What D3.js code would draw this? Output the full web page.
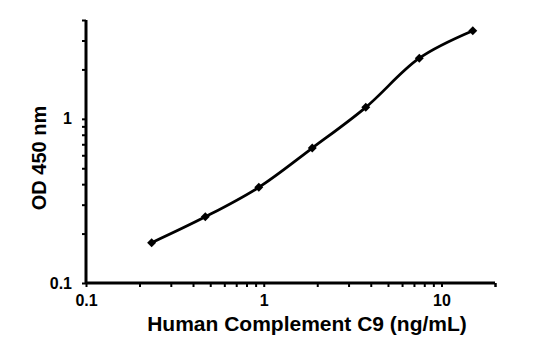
<!DOCTYPE html>
<html><head><meta charset="utf-8">
<script src="https://cdn.jsdelivr.net/npm/d3@7"></script>
<style>
html,body{margin:0;padding:0;background:#fff;}
svg{display:block;}
text{font-family:"Liberation Sans",Arial,sans-serif;font-weight:bold;fill:#000;}
</style></head><body>
<svg id="chart" width="560" height="339"></svg>
<script>
const concentrations = [0.234, 0.469, 0.938, 1.875, 3.75, 7.5, 15];
const odValues = [0.176, 0.253, 0.383, 0.664, 1.175, 2.34, 3.44];
const xTickLabels = [0.1, 1, 10];
const yTickLabels = [0.1, 1];
const xTitle = "Human Complement C9 (ng/mL)";
const yTitle = "OD 450 nm";

const svg = d3.select("#chart");
const mLeft = 86, mRight = 495, mTop = 20, mBottom = 283;
const x = d3.scaleLog().domain([0.1, 20]).range([mLeft, mRight]);
const y = d3.scaleLog().domain([0.1, 4]).range([mBottom, mTop]);

const xMinor = [];
for (let d = 0.1; d < 20; d *= 10) for (let k = 1; k < 10; k++) { const v = +(d * k).toPrecision(3); if (v <= 20) xMinor.push(v); }
xMinor.push(20);
const yMinor = [];
for (let d = 0.1; d < 4; d *= 10) for (let k = 1; k < 10; k++) { const v = +(d * k).toPrecision(3); if (v <= 4) yMinor.push(v); }

const xAxis = d3.axisBottom(x).tickValues(xMinor).tickSize(4).tickFormat(d => xTickLabels.includes(d) ? String(d) : "");
const yAxis = d3.axisLeft(y).tickValues(yMinor).tickSize(4).tickFormat(d => yTickLabels.includes(d) ? String(d) : "");

const gx = svg.append("g").attr("transform", `translate(0,${mBottom})`).call(xAxis);
const gy = svg.append("g").attr("transform", `translate(${mLeft},0)`).call(yAxis);
[gx, gy].forEach(g => {
  g.select(".domain").attr("stroke", "#000").attr("stroke-width", 3);
  g.selectAll(".tick line").attr("stroke", "#000").attr("stroke-width", 2);
  g.selectAll(".tick text").style("font-size", "16px").style("font-family", "'Liberation Sans',Arial,sans-serif").style("font-weight", "bold").attr("fill", "#000");
});
gx.select(".domain").attr("d", `M${mLeft},0H${mRight}`);
gy.select(".domain").attr("d", `M0,${mBottom}V${mTop}`);
gx.selectAll(".tick text").attr("dy", "0.71em").attr("y", 12);
gy.selectAll(".tick text").attr("x", -14);

const pts = concentrations.map((c, i) => [x(c), y(odValues[i])]);
svg.append("path")
  .attr("d", d3.line().curve(d3.curveCatmullRom.alpha(0.5))(pts))
  .attr("fill", "none").attr("stroke", "#000").attr("stroke-width", 2.8);

svg.append("g").selectAll("path").data(concentrations).join("path")
  .attr("d", d3.symbol(d3.symbolSquare, 40))
  .attr("transform", (c, i) => `translate(${x(c)},${y(odValues[i])}) rotate(45)`)
  .attr("fill", "#000");

svg.append("text").attr("x", 307).attr("y", 331).attr("text-anchor", "middle")
  .style("font-size", "21px").text(xTitle);
svg.append("text").attr("transform", "translate(46,158) rotate(-90)").attr("text-anchor", "middle")
  .style("font-size", "20px").text(yTitle);
</script>
</body></html>
